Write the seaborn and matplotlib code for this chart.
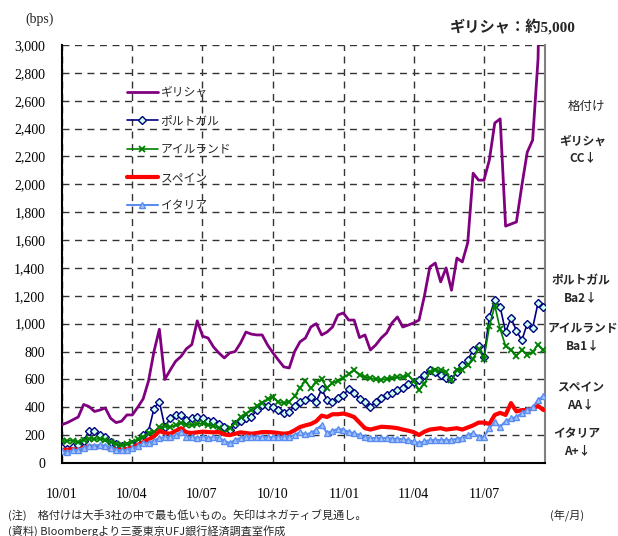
import numpy as np
import pandas as pd
import matplotlib
matplotlib.use("Agg")
import matplotlib.pyplot as plt
import seaborn as sns

# Weekly CDS spreads (bps), Jan 2010 - Sep 2011
dates = pd.date_range("2010-01-01", periods=90, freq="7D")

greece = [275, 290, 310, 330, 420, 405, 370, 380, 395, 320,
          290, 300, 345, 345, 400, 460, 590, 800, 960, 600,
          667, 730, 765, 820, 850, 1020, 910, 897, 833, 790,
          754, 790, 800, 861, 940, 925, 919, 919, 847, 790,
          739, 690, 682, 800, 870, 897, 976, 1000, 919, 940,
          976, 1062, 1077, 1026, 1026, 900, 919, 811, 847, 897,
          933, 1005, 1048, 976, 990, 1005, 1026, 1200, 1407, 1435,
          1300, 1400, 1240, 1471, 1443, 1580, 2080, 2030, 2030, 2175,
          2440, 2470, 1700, 1715, 1730, 1990, 2230, 2318, 2900, 5000]

portugal = [110, 100, 115, 130, 160, 230, 230, 200, 190, 150,
            135, 125, 125, 135, 145, 200, 230, 390, 440, 260,
            320, 345, 345, 310, 320, 330, 320, 300, 300, 280,
            255, 237, 280, 300, 323, 330, 380, 416, 410, 402,
            380, 359, 366, 410, 435, 450, 474, 440, 530, 452,
            438, 470, 488, 530, 500, 460, 440, 402, 440, 467,
            490, 505, 525, 540, 570, 580, 596, 630, 667, 650,
            632, 610, 600, 653, 700, 739, 811, 840, 760, 1050,
            1170, 1120, 940, 1040, 950, 880, 1000, 969, 1150, 1120]

ireland = [155, 160, 160, 150, 165, 175, 170, 175, 165, 150,
           135, 130, 135, 150, 170, 185, 215, 220, 255, 265,
           258, 270, 287, 275, 272, 280, 285, 275, 265, 250,
           215, 250, 290, 330, 355, 380, 410, 430, 460, 474,
           438, 430, 440, 480, 540, 590, 535, 580, 600, 540,
           574, 590, 610, 640, 667, 630, 617, 610, 600, 596,
           605, 610, 615, 617, 630, 590, 524, 570, 653, 667,
           665, 650, 596, 667, 670, 700, 750, 820, 750, 980,
           1130, 960, 840, 811, 770, 811, 775, 797, 850, 811]

spain = [95, 95, 100, 95, 110, 120, 115, 115, 110, 100,
         95, 95, 100, 110, 130, 150, 170, 190, 230, 215,
         210, 230, 250, 220, 215, 220, 225, 222, 220, 222,
         205, 200, 210, 220, 215, 210, 215, 222, 222, 220,
         215, 210, 215, 235, 258, 270, 280, 300, 340, 330,
         350, 350, 355, 345, 330, 290, 250, 240, 250, 260,
         258, 255, 250, 240, 232, 222, 201, 225, 240, 245,
         250, 240, 245, 250, 240, 255, 270, 290, 290, 280,
         345, 360, 345, 430, 370, 380, 380, 390, 410, 380]

italy = [85, 80, 90, 95, 110, 125, 125, 130, 125, 110,
         95, 90, 95, 105, 120, 140, 145, 160, 180, 185,
         187, 200, 222, 190, 185, 182, 185, 182, 185, 180,
         160, 143, 165, 180, 187, 190, 190, 188, 187, 185,
         187, 190, 187, 200, 222, 205, 215, 240, 272, 215,
         230, 245, 240, 222, 215, 201, 185, 178, 180, 178,
         180, 175, 175, 170, 165, 155, 143, 155, 165, 165,
         165, 165, 165, 175, 180, 200, 215, 190, 187, 250,
         294, 260, 300, 320, 330, 359, 380, 400, 452, 480]

countries = ["ギリシャ", "ポルトガル", "アイルランド", "スペイン", "イタリア"]
ratings = ["CC↓", "Ba2↓", "Ba1↓", "AA↓", "A+↓"]
tick_dates = pd.to_datetime(["2010-01-01", "2010-04-01", "2010-07-01", "2010-10-01",
                             "2011-01-01", "2011-04-01", "2011-07-01"])
tick_labels = ["10/01", "10/04", "10/07", "10/10", "11/01", "11/04", "11/07"]
y_ticks = list(range(0, 3001, 200))

df = pd.DataFrame({
    "date": np.tile(dates, len(countries)),
    "country": np.repeat(countries, len(dates)),
    "bps": np.concatenate([greece, portugal, ireland, spain, italy]),
})

sns.set_theme(style="white")
plt.rcParams["font.family"] = ["Noto Sans CJK JP", "DejaVu Sans"]

W, H = 618, 536
fig = plt.figure(figsize=(W / 100, H / 100), dpi=100)
ax = fig.add_axes([62 / W, 1 - 463 / H, (545 - 62) / W, (463 - 45) / H])

styles = {
    "ギリシャ": dict(color="#800080", linewidth=2.0),
    "ポルトガル": dict(color="#000080", linewidth=1.2, marker="D", markersize=4.5,
                   markerfacecolor="#CCFFEE", markeredgecolor="#000080",
                   markeredgewidth=1.0),
    "アイルランド": dict(color="#008000", linewidth=1.2, marker="x", markersize=4.5,
                    markeredgecolor="#008000", markeredgewidth=1.3),
    "スペイン": dict(color="#FF0000", linewidth=3.0),
    "イタリア": dict(color="#5A8DF0", linewidth=1.5, marker="^", markersize=4.5,
                 markerfacecolor="#A8C4FF", markeredgecolor="#5A8DF0",
                 markeredgewidth=1.0),
}

for c in countries:
    sns.lineplot(data=df[df["country"] == c], x="date", y="bps", ax=ax,
                 label=c, legend=False, zorder=3, **styles[c])

ax.set_xlim(pd.Timestamp("2010-01-01"), pd.Timestamp("2011-09-18"))
ax.set_ylim(0, 3000)
ax.set_xlabel("")
ax.set_ylabel("")

ax.set_yticks(y_ticks)
ax.set_yticklabels([f"{v:,}" for v in y_ticks], fontfamily="Liberation Serif",
                   fontsize=10)
ax.set_xticks(tick_dates)
ax.set_xticklabels(tick_labels, fontfamily="Liberation Serif", fontsize=10)
ax.tick_params(axis="y", length=0, pad=12, colors="black")
ax.tick_params(axis="x", length=0, pad=18, colors="black")

ax.grid(True, color="#333333", linestyle=(0, (5, 4)), linewidth=1.0, zorder=0)
ax.set_axisbelow(True)

for side in ("left", "bottom"):
    ax.spines[side].set_color("black")
    ax.spines[side].set_linewidth(1.5)
ax.spines["right"].set_color("#808080")
ax.spines["right"].set_linewidth(1.5)
ax.spines["top"].set_visible(False)

handles, labels = ax.get_legend_handles_labels()
leg = fig.legend(handles, labels, loc="upper left",
                 bbox_to_anchor=(127 / W, 1 - 86 / H), frameon=False,
                 fontsize=8.5, handlelength=2.6, handletextpad=0.25,
                 labelspacing=1.3, borderpad=0, borderaxespad=0)


def fx(px):
    return px / W


def fy(py):
    return 1 - py / H


fig.text(fx(40), fy(19), "(bps)", fontfamily="Liberation Serif", fontsize=10,
         ha="center", va="center")
fig.text(fx(513), fy(27), "ギリシャ：約5,000",
         fontfamily=["Liberation Serif", "Noto Sans CJK JP"], fontsize=11,
         fontweight="bold", ha="center", va="center")
fig.text(fx(586), fy(106), "格付け", fontsize=9, ha="center", va="center")

rating_pos = [(583, 141), (581, 281), (583, 329), (581, 388), (577, 434)]
for (px, py), name, rating in zip(rating_pos, countries, ratings):
    fig.text(fx(px), fy(py), name, fontsize=8.5, fontweight="bold",
             ha="center", va="center")
    fig.text(fx(px), fy(py + 17), rating, fontsize=8.5, fontweight="bold",
             family=["Noto Sans CJK JP", "DejaVu Sans"], ha="center",
             va="center")

fig.text(fx(8), fy(515), "(注)　格付けは大手3社の中で最も低いもの。矢印はネガティブ見通し。",
         fontsize=8, ha="left", va="center")
fig.text(fx(8), fy(531), "(資料) Bloombergより三菱東京UFJ銀行経済調査室作成",
         fontsize=8, ha="left", va="center")
fig.text(fx(567), fy(515), "(年/月)", fontsize=8, ha="center", va="center")

fig.savefig("out.png", dpi=100)
